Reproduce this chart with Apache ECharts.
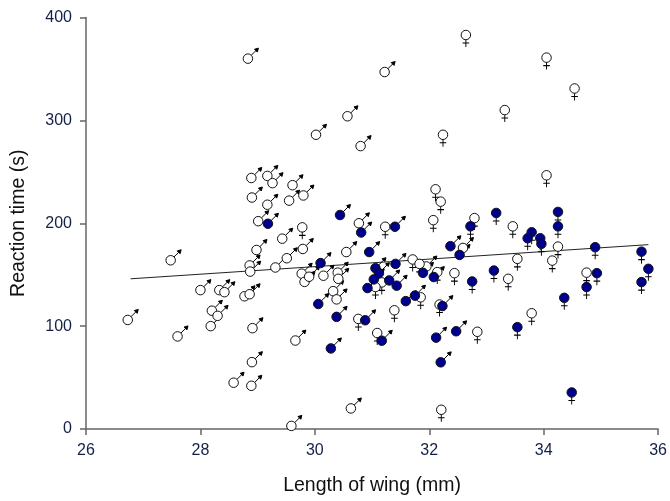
<!DOCTYPE html>
<html lang="en">
<head>
<meta charset="utf-8">
<title>Reaction time vs wing length</title>
<script src="https://cdn.jsdelivr.net/npm/echarts@6/dist/echarts.min.js"></script>
<style>
  html, body { margin: 0; padding: 0; background: #fff; }
  #main { width: 670px; height: 501px; }
</style>
</head>
<body>
<div id="main"></div>
<script>
// wing length (mm), reaction time (s)
var maleOpen = [
  [28.83, 360], [31.22, 347], [30.57, 304], [30.02, 286], [30.80, 275],
  [27.48, 164], [28.00, 135], [28.33, 135], [28.42, 133], [28.20, 115],
  [28.30, 110], [28.18, 100], [27.60, 90], [26.73, 106], [28.77, 129],
  [28.86, 131], [28.91, 98], [28.89, 244], [29.17, 246], [29.26, 239],
  [29.61, 237], [29.80, 227], [29.55, 222], [28.90, 225], [29.17, 218],
  [29.01, 202], [29.43, 185], [28.98, 174], [28.86, 159], [28.87, 153],
  [29.31, 157], [29.51, 166], [29.79, 175], [30.55, 172], [30.77, 200],
  [29.77, 151], [29.82, 143], [29.90, 148], [30.15, 149], [30.40, 152],
  [30.41, 146], [30.32, 134], [30.38, 126], [29.66, 86], [28.90, 65],
  [28.58, 45], [28.89, 42], [30.63, 20], [29.59, 3], [32.59, 176],
  [31.95, 158]
];
var maleFilled = [
  [29.18, 199.5], [30.44, 208], [30.81, 191], [31.40, 196.6], [30.95, 172],
  [30.10, 161.3], [31.06, 156.3], [31.12, 151.5], [31.03, 145.4], [30.92, 137],
  [31.30, 144.4], [31.43, 139.3], [31.41, 160.5], [31.59, 124.3], [31.75, 129.6],
  [31.89, 151.8], [32.08, 147.7], [30.06, 121.5], [30.38, 109], [30.88, 105.7],
  [31.17, 85.8], [30.28, 78.3], [32.37, 177.7], [32.53, 169.2], [32.23, 119.5],
  [32.12, 88.8], [32.47, 95], [32.20, 64.8]
];
var femaleOpen = [
  [32.64, 383], [32.24, 286], [33.32, 310], [34.05, 361], [34.54, 331],
  [29.78, 196], [31.23, 196.6], [30.76, 107], [31.39, 115.4], [31.09, 93.3],
  [31.17, 142.5], [31.06, 138], [31.71, 164.8], [31.83, 160.5], [31.85, 128],
  [32.11, 233], [32.20, 221], [32.07, 203], [34.05, 246.6], [32.79, 205],
  [33.46, 197], [34.25, 177.3], [34.75, 152], [33.54, 165.4], [34.15, 163.7],
  [33.38, 146], [32.44, 151.5], [32.14, 152.5], [32.18, 121], [33.79, 112.5],
  [32.84, 94.5], [32.21, 18.7]
];
var femaleFilled = [
  [32.72, 197], [33.17, 210], [33.79, 191.2], [33.72, 185.4], [33.94, 185.4],
  [33.96, 180], [34.25, 211], [34.25, 197], [34.90, 176.7], [35.71, 172.4],
  [35.83, 155.7], [35.71, 142.8], [34.93, 151.5], [34.75, 138], [34.36, 127.5],
  [33.13, 154], [32.75, 143.4], [33.54, 99], [34.49, 35.5]
];
var trendLine = [[26.78, 146], [35.83, 179.2]];
var xTicks = [26, 28, 30, 32, 34, 36];
var yTicks = [0, 100, 200, 300, 400];

var BLUE = '#00008f';
var malePath = 'path://M3 -3 L8.2 -8.2 M6.6 -9.4 L10.5 -10.5 L9.4 -6.6 Z';
var femalePath = 'path://M0 4.5 L0 12 M-3.3 8 L3.3 8';

function glyphSeries(data, isMale) {
  return {
    type: 'scatter',
    data: data,
    symbol: isMale ? malePath : femalePath,
    symbolSize: isMale ? [7.5, 7.5] : [6.6, 7.5],
    symbolOffset: isMale ? [6.75, -6.75] : [0, 8.25],
    itemStyle: { color: '#000', borderColor: '#000', borderWidth: 1, opacity: 1 },
    silent: true,
    z: 2
  };
}
function circleSeries(data, fill) {
  return {
    type: 'scatter',
    data: data,
    symbol: 'circle',
    symbolSize: 9.5,
    itemStyle: { color: fill, borderColor: '#111', borderWidth: 1, opacity: 1 },
    silent: true,
    z: 3
  };
}

var chart = echarts.init(document.getElementById('main'));
chart.setOption({
  animation: false,
  backgroundColor: '#fff',
  grid: { left: 86, right: 10, top: 17.5, bottom: 70 },
  xAxis: {
    type: 'value',
    min: xTicks[0], max: xTicks[xTicks.length - 1], interval: 2,
    name: 'Length of wing (mm)',
    nameLocation: 'middle', nameGap: 47,
    nameTextStyle: { fontFamily: 'Liberation Sans', fontSize: 19.5, color: '#111' },
    axisLine: { lineStyle: { color: '#666', width: 1.5 } },
    axisTick: { inside: false, length: 6, lineStyle: { color: '#666', width: 1.5 } },
    axisLabel: { margin: 14, fontFamily: 'Liberation Sans', fontSize: 16, color: '#14204a' },
    splitLine: { show: false }
  },
  yAxis: {
    type: 'value',
    min: yTicks[0], max: yTicks[yTicks.length - 1], interval: 100,
    name: 'Reaction time (s)',
    nameLocation: 'middle', nameGap: 57, nameRotate: 90,
    nameTextStyle: { fontFamily: 'Liberation Sans', fontSize: 19.5, color: '#111' },
    axisLine: { show: true, lineStyle: { color: '#666', width: 1.5 } },
    axisTick: { show: true, inside: false, length: 6, lineStyle: { color: '#666', width: 1.5 } },
    axisLabel: { margin: 14, fontFamily: 'Liberation Sans', fontSize: 16, color: '#14204a' },
    splitLine: { show: false }
  },
  series: [
    {
      type: 'line',
      data: trendLine,
      symbol: 'none',
      lineStyle: { color: '#222', width: 1 },
      silent: true,
      z: 1
    },
    glyphSeries(maleOpen, true),
    glyphSeries(maleFilled, true),
    glyphSeries(femaleOpen, false),
    glyphSeries(femaleFilled, false),
    circleSeries(maleOpen, '#fff'),
    circleSeries(femaleOpen, '#fff'),
    circleSeries(maleFilled, BLUE),
    circleSeries(femaleFilled, BLUE)
  ]
});
</script>
</body>
</html>
